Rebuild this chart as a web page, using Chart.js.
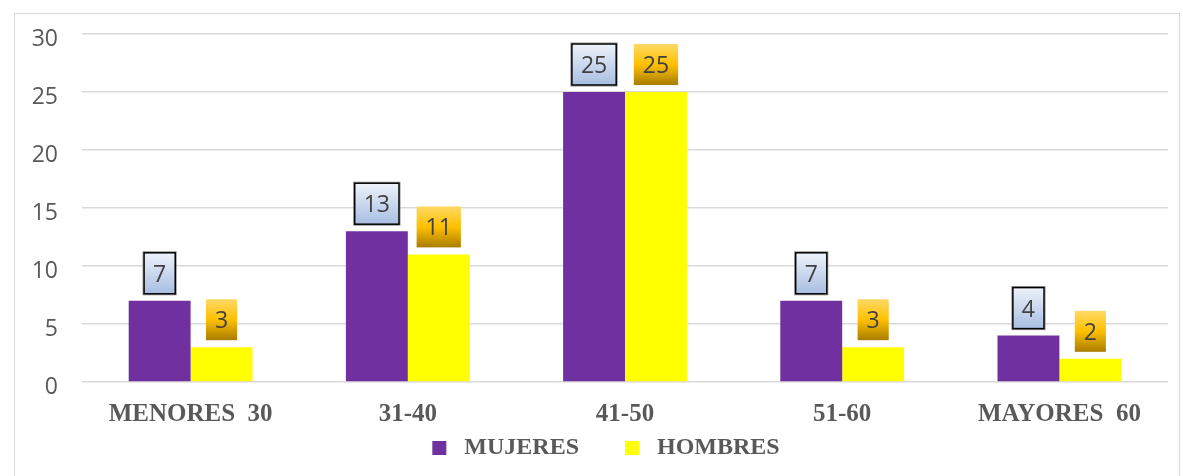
<!DOCTYPE html>
<html>
<head>
<meta charset="utf-8">
<script src="https://cdn.jsdelivr.net/npm/chart.js@4/dist/chart.umd.min.js"></script>
<style>
  html, body { margin: 0; padding: 0; background: #fff; }
  #wrap { position: relative; width: 1183px; height: 476px; }
  #frame { position: absolute; left: 14px; top: 13px; width: 1166px; height: 470px; border: 1.5px solid #d9d9d9; box-sizing: border-box; }
  canvas { position: absolute; left: 0; top: 0; }
</style>
</head>
<body>
<div id="wrap">
  <div id="frame"></div>
  <canvas id="grupos" width="1183" height="476"></canvas>
</div>
<script>
const categorias = ['MENORES  30', '31-40', '41-50', '51-60', 'MAYORES  60'];
const mujeres = [7, 13, 25, 7, 4];
const hombres = [3, 11, 25, 3, 2];
const yTicks = [0, 5, 10, 15, 20, 25, 30];

// boxed value labels drawn above each bar
const etiquetas = {
    id: 'etiquetas',
    afterLayout(chart) {
        // legend sits a little right of centre
        chart.legend.left += 15;
        chart.legend.right += 15;
    },
    afterDatasetsDraw(chart) {
        const ctx = chart.ctx;
        ctx.save();
        ctx.font = '23px "Open Sans", sans-serif';
        ctx.textAlign = 'center';
        ctx.textBaseline = 'middle';
        chart.data.datasets.forEach((ds, di) => {
            const meta = chart.getDatasetMeta(di);
            meta.data.forEach((bar, i) => {
                const txt = String(ds.data[i]);
                const w = ctx.measureText(txt).width + 18;
                const h = 41;
                const x = bar.x - w / 2;
                const y = bar.y - 7 - h;
                const g = ctx.createLinearGradient(0, y, 0, y + h);
                if (di === 0) {
                    g.addColorStop(0, '#eef2fa');
                    g.addColorStop(1, '#a7bee2');
                } else {
                    g.addColorStop(0, '#ffd966');
                    g.addColorStop(0.5, '#ffc000');
                    g.addColorStop(1, '#a97d00');
                }
                ctx.fillStyle = g;
                ctx.fillRect(x, y, w, h);
                if (di === 0) {
                    ctx.strokeStyle = '#8c8c8c';
                    ctx.lineWidth = 1;
                    ctx.strokeRect(x - 1, y - 1, w + 2, h + 2);
                    ctx.strokeStyle = '#000';
                    ctx.lineWidth = 1.5;
                    ctx.strokeRect(x, y, w, h);
                }
                ctx.fillStyle = '#404040';
                ctx.fillText(txt, bar.x, y + h / 2 + 2);
            });
        });
        ctx.restore();
    }
};

new Chart(document.getElementById('grupos'), {
    type: 'bar',
    data: {
        labels: categorias,
        datasets: [
            {
                label: 'MUJERES',
                data: mujeres,
                backgroundColor: '#7030a0',
                categoryPercentage: 0.57,
                barPercentage: 1
            },
            {
                label: 'HOMBRES',
                data: hombres,
                backgroundColor: '#ffff00',
                categoryPercentage: 0.57,
                barPercentage: 1
            }
        ]
    },
    options: {
        responsive: false,
        animation: false,
        layout: {
            padding: { left: 14, right: 15, top: 34, bottom: 6 }
        },
        plugins: {
            legend: {
                position: 'bottom',
                labels: {
                    boxWidth: 14,
                    boxHeight: 14,
                    padding: 10,
                    color: '#595959',
                    font: { family: '"Liberation Serif", serif', size: 24, weight: 'bold' },
                    generateLabels(chart) {
                        return chart.data.datasets.map((ds, i) => ({
                            text: ' ' + ds.label + (i === 0 ? '      ' : ''),
                            fillStyle: ds.backgroundColor,
                            strokeStyle: ds.backgroundColor,
                            lineWidth: 0,
                            fontColor: '#595959',
                            datasetIndex: i
                        }));
                    }
                }
            },
            tooltip: { enabled: false }
        },
        scales: {
            x: {
                afterFit(s) { s.height = 44; s.paddingLeft = 0; s.paddingRight = 0; },
                grid: { display: false },
                border: { display: false },
                ticks: {
                    color: '#595959',
                    padding: 10,
                    font: { family: '"Liberation Serif", serif', size: 25, weight: 'bold' }
                }
            },
            y: {
                min: 0,
                max: 30,
                afterFit(s) { s.width = 68; s.paddingTop = 0; s.paddingBottom = 0; },
                afterBuildTicks(s) { s.ticks = yTicks.map(v => ({ value: v })); },
                grid: { color: '#d9d9d9', lineWidth: 1.5, drawTicks: false },
                border: { display: false },
                ticks: {
                    color: '#595959',
                    padding: 24,
                    labelOffset: 5,
                    font: { family: '"Open Sans", sans-serif', size: 23 }
                }
            }
        }
    },
    plugins: [etiquetas]
});
</script>
</body>
</html>
